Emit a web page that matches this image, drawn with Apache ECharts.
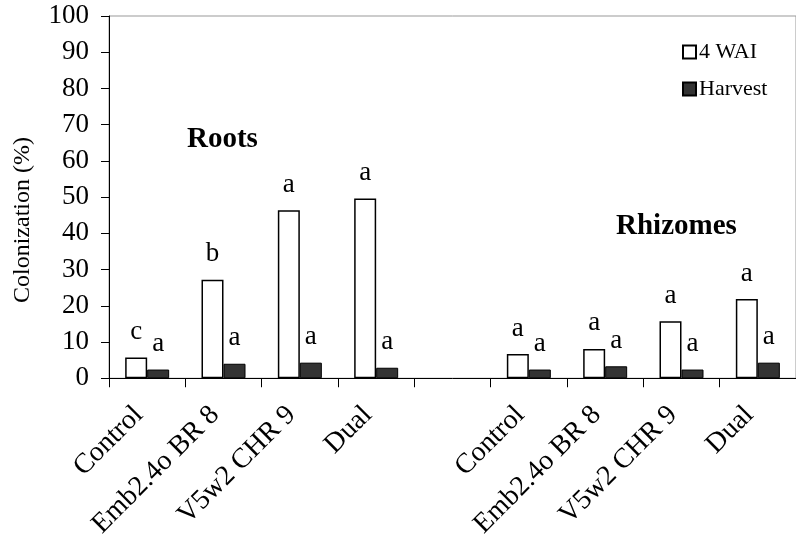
<!DOCTYPE html>
<html>
<head>
<meta charset="utf-8">
<script src="https://cdn.jsdelivr.net/npm/echarts@6/dist/echarts.min.js"></script>
<style>
  html, body { margin: 0; padding: 0; background: #fff; }
  #chart { width: 796px; height: 541px; }
</style>
</head>
<body>
<div id="chart"></div>
<script>
// categories, the empty slot separates roots from rhizomes
var categories = ['Control', 'Emb2.4o BR 8', 'V5w2 CHR 9', 'Dual', '', 'Control', 'Emb2.4o BR 8', 'V5w2 CHR 9', 'Dual']
var wai4 = [5.7, 27.2, 46.4, 49.6, null, 6.7, 8.1, 15.7, 21.9]
var harvest = [2.4, 4.0, 4.3, 2.9, null, 2.4, 3.3, 2.4, 4.3]
var waiLetters = ['c', 'b', 'a', 'a', '', 'a', 'a', 'a', 'a']
var harvestLetters = ['a', 'a', 'a', 'a', '', 'a', 'a', 'a', 'a']
var yTicks = [0, 10, 20, 30, 40, 50, 60, 70, 80, 90, 100]

var serif = '"Liberation Serif", "DejaVu Serif", serif'

var chart = echarts.init(document.getElementById('chart'))

let option = {
  animation: false,
  backgroundColor: '#fff',
  textStyle: { fontFamily: serif },
  grid: {
    left: 109,
    top: 16,
    width: 697.5,
    bottom: 162,
    show: true,
    borderColor: '#999',
    borderWidth: 1,
  },
  legend: {
    left: 677,
    top: 36,
    orient: 'vertical',
    icon: 'rect',
    itemWidth: 13,
    itemHeight: 13,
    itemGap: 15,
    textStyle: { fontFamily: serif, fontSize: 22, color: '#000', padding: [0, 0, 0, -2] },
    data: ['4 WAI', 'Harvest'],
  },
  xAxis: {
    type: 'category',
    data: categories,
    boundaryGap: true,
    axisLine: { lineStyle: { color: '#000', width: 1 } },
    axisTick: { show: true, length: 9, lineStyle: { color: '#000' } },
    axisLabel: {
      rotate: 45,
      margin: 24,
      interval: 0,
      padding: [0, 12, 0, 0],
      fontFamily: serif,
      fontSize: 28,
      color: '#000',
    },
  },
  yAxis: {
    type: 'value',
    min: 0,
    max: 100,
    interval: 10,
    splitLine: { show: false },
    axisLine: { show: true, lineStyle: { color: '#000', width: 1 } },
    axisTick: { show: true, length: 8, lineStyle: { color: '#000' } },
    axisLabel: {
      margin: 20,
      fontFamily: serif,
      fontSize: 27,
      color: '#000',
      formatter: function (v) {
        return yTicks.indexOf(v) >= 0 ? String(v) : ''
      },
    },
  },
  series: [
    {
      name: '4 WAI',
      type: 'bar',
      data: wai4,
      barWidth: 22,
      barGap: '0%',
      itemStyle: { color: '#fff', borderColor: '#000', borderWidth: 1.5 },
      label: {
        show: true,
        position: 'top',
        distance: 12,
        fontFamily: serif,
        fontSize: 27,
        color: '#000',
        formatter: function (p) {
          return waiLetters[p.dataIndex]
        },
      },
    },
    {
      name: 'Harvest',
      type: 'bar',
      data: harvest,
      barWidth: 22,
      itemStyle: { color: '#333', borderColor: '#000', borderWidth: 1 },
      label: {
        show: true,
        position: 'top',
        distance: 12,
        fontFamily: serif,
        fontSize: 27,
        color: '#000',
        formatter: function (p) {
          return harvestLetters[p.dataIndex]
        },
      },
    },
  ],
  graphic: [
    {
      type: 'text',
      x: 23,
      y: 220,
      rotation: Math.PI / 2,
      style: {
        text: 'Colonization (%)',
        font: '24px ' + serif,
        fill: '#000',
        textAlign: 'center',
        textVerticalAlign: 'middle',
      },
    },
    {
      type: 'text',
      x: 187,
      y: 125,
      style: { text: 'Roots', font: 'bold 29px ' + serif, fill: '#000' },
    },
    {
      type: 'text',
      x: 616,
      y: 212,
      style: { text: 'Rhizomes', font: 'bold 29px ' + serif, fill: '#000' },
    },
    // text boxes in the original cut the bottom of the titles
    { type: 'rect', shape: { x: 183, y: 149, width: 80, height: 9 }, style: { fill: '#fff' }, z: 100 },
    { type: 'rect', shape: { x: 612, y: 235, width: 132, height: 9 }, style: { fill: '#fff' }, z: 100 },
  ],
}
chart.setOption(option)
</script>
</body>
</html>
